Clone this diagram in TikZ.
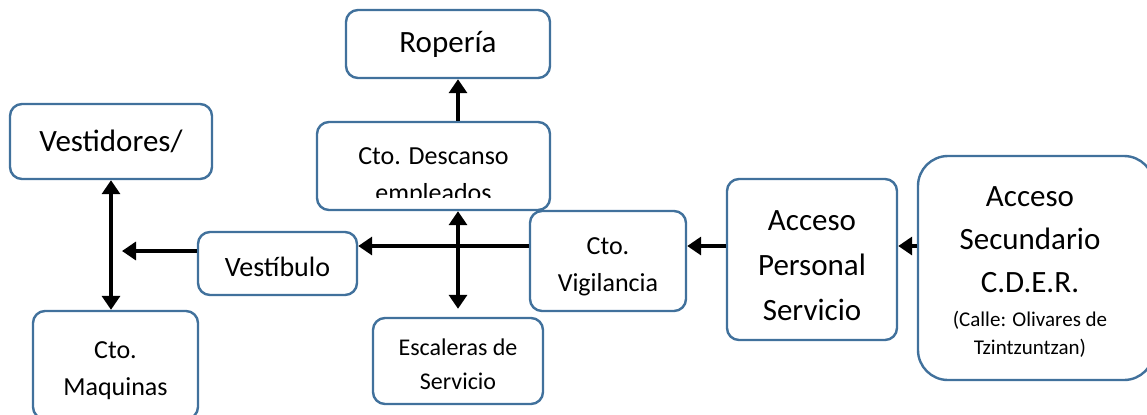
\documentclass[tikz,border=0pt]{standalone}
\usepackage{fontspec}
\setmainfont{Carlito}
\usetikzlibrary{arrows.meta}
\definecolor{borde}{RGB}{65,113,156}
\newcommand*\tam[2]{\fontsize{#1}{#2}\selectfont}

\begin{document}
\begin{tikzpicture}[x=0.5pt,y=-0.5pt,>={Triangle[length=7pt,width=9pt]},
	caja/.style={draw=borde,line width=1.2pt,rounded corners=6pt,align=center,inner sep=0pt},
	texto/.style={align=center,yshift=-3pt},
	flecha/.style={line width=1.7pt}]
			\useasboundingbox(0,0)rectangle(1147,414);
			\node[caja,minimum width=102pt,minimum height=34pt,font=\tam{15.5}{19}](rop)at(448,44){Ropería};
			\node[caja,minimum width=116.5pt,minimum height=44pt](desc)at(433.5,166){};
			\node[caja,minimum width=101pt,minimum height=37.5pt,font=\tam{15.5}{19}](vest)at(111,141.5){Vestidores/};
			\node[caja,minimum width=79.5pt,minimum height=31.5pt](vbl)at(277.5,263.5){};
			\node[caja,minimum width=78pt,minimum height=50pt](vig)at(608,261){};
			\node[caja,minimum width=85pt,minimum height=80.5pt](aps)at(812,259.5){};
			\node[caja,rounded corners=15pt,minimum width=118pt,minimum height=112pt](asc)at(1036,268){};
			\node[caja,minimum width=82.5pt,minimum height=54pt](maq)at(115.5,365){};
			\node[caja,minimum width=85pt,minimum height=43pt](esc)at(458,361){};
			\node[texto,yshift=1.5pt,font=\tam{14}{17}](vblt)at(vbl){Vestíbulo};
			\node[texto,font=\tam{13}{18.5}](vigt)at(vig){Cto.\\Vigilancia};
			\node[texto,font=\tam{15.5}{22.5}](apst)at(aps){Acceso\\Personal\\Servicio};
			\node[texto,font=\tam{13}{18.5}](maqt)at(maq){Cto.\\Maquinas};
			\node[texto,yshift=1.5pt,font=\tam{12}{17}](esct)at(esc){Escaleras de\\Servicio};
			\node[align=center,font=\tam{15.5}{21.5}](asct)at(1030,240){Acceso\\Secundario\\C.D.E.R.};
			\node[align=center,font=\tam{10.5}{14}](ascc)at(1030,334){(Calle: Olivares de\\Tzintzuntzan)};
			\begin{scope}
				\clip(desc.north west)rectangle(desc.east|-0,197);
				\node[align=center,font=\tam{13}{18.5}](desct)at(433.5,177){Cto. Descanso\\empleados};
			\end{scope}
			\coordinate(m)at(0,246);
			\coordinate(p)at(122,251);
			\draw[flecha,->](desc.north-|esc)--(rop.south-|esc);
			\draw[flecha,<->](vest.south)--(vest.south|-maq.north);
			\draw[flecha,->](vbl.west|-p)--(p);
			\draw[flecha,->](vig.west|-m)--(vbl.east|-m);
			\draw[flecha,<->,shorten >=4pt](desc.south-|esc)--(esc.north);
			\draw[flecha,->](aps.west|-m)--(vig.east|-m);
			\draw[flecha,->](asc.west|-m)--(aps.east|-m);
		\end{tikzpicture}
\end{document}
